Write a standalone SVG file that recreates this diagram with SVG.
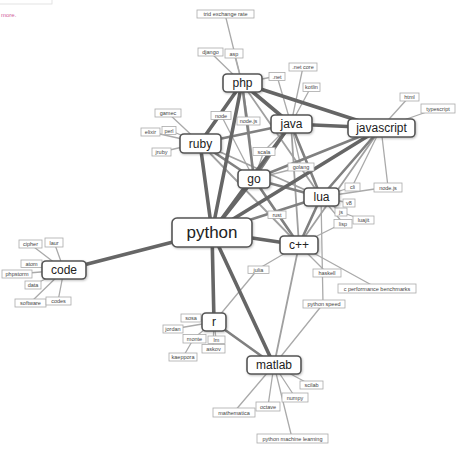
<svg xmlns="http://www.w3.org/2000/svg" width="456" height="456" viewBox="0 0 456 456">
<style>
.n rect{fill:#fff;stroke:#555;stroke-width:1.6}
.n text{font-family:"Liberation Sans",Arial,sans-serif;font-size:12px;fill:#222;text-anchor:middle;dominant-baseline:central}
.l rect{fill:#fff;stroke:#aaa;stroke-width:0.8}
.l text{font-family:"Liberation Sans",Arial,sans-serif;font-size:5.5px;fill:#444;text-anchor:middle;dominant-baseline:central}
.e line{stroke-linecap:round}
.t1{stroke:#666;stroke-width:3.6}
.t2{stroke:#808080;stroke-width:2.6}
.t3{stroke:#a0a0a0;stroke-width:1.8}
.t4{stroke:#aaa;stroke-width:1.3}
</style>
<defs>
<filter id="sh" x="-20%" y="-20%" width="140%" height="150%">
<feDropShadow dx="0.8" dy="1" stdDeviation="0.8" flood-color="#000" flood-opacity="0.25"/>
</filter>
</defs>
<rect x="-2" y="-10" width="54" height="14" fill="#fff" stroke="#ddd" stroke-width="0.8"/>
<text x="1" y="17" font-family="Liberation Sans,Arial,sans-serif" font-size="6" fill="#d0609a">more.</text>
<g id="connectors" class="e">
<!-- label edges -->
<line class="t4" x1="242" y1="83" x2="225" y2="14"/>
<line class="t4" x1="242" y1="83" x2="210" y2="52"/>
<line class="t4" x1="242" y1="83" x2="234" y2="53"/>
<line class="t4" x1="242" y1="83" x2="277" y2="76"/>
<line class="t4" x1="291" y1="124" x2="277" y2="76"/>
<line class="t4" x1="291" y1="124" x2="303" y2="67"/>
<line class="t4" x1="291" y1="124" x2="311" y2="87"/>
<line class="t4" x1="291" y1="124" x2="264" y2="151"/>
<line class="t4" x1="291" y1="124" x2="301" y2="167"/>
<line class="t4" x1="254" y1="179" x2="301" y2="167"/>
<line class="t4" x1="254" y1="179" x2="264" y2="151"/>
<line class="t4" x1="200" y1="143" x2="168" y2="113"/>
<line class="t4" x1="200" y1="143" x2="169" y2="130"/>
<line class="t4" x1="200" y1="143" x2="151" y2="132"/>
<line class="t4" x1="200" y1="143" x2="161" y2="152"/>
<line class="t4" x1="200" y1="143" x2="221" y2="115"/>
<line class="t4" x1="254" y1="179" x2="221" y2="115"/>
<line class="t4" x1="242" y1="83" x2="248" y2="121"/>
<line class="t4" x1="254" y1="179" x2="248" y2="121"/>
<line class="t4" x1="381" y1="128" x2="409" y2="97"/>
<line class="t4" x1="381" y1="128" x2="438" y2="108"/>
<line class="t4" x1="381" y1="128" x2="352" y2="187"/>
<line class="t4" x1="381" y1="128" x2="388" y2="187"/>
<line class="t4" x1="321" y1="197" x2="352" y2="187"/>
<line class="t4" x1="321" y1="197" x2="388" y2="187"/>
<line class="t4" x1="321" y1="197" x2="349" y2="203"/>
<line class="t4" x1="321" y1="197" x2="341" y2="212"/>
<line class="t4" x1="341" y1="212" x2="363" y2="220"/>
<line class="t4" x1="321" y1="197" x2="343" y2="223"/>
<line class="t4" x1="321" y1="197" x2="323" y2="304"/>
<line class="t4" x1="299" y1="245" x2="343" y2="223"/>
<line class="t4" x1="299" y1="245" x2="277" y2="214"/>
<line class="t4" x1="254" y1="179" x2="277" y2="214"/>
<line class="t4" x1="299" y1="245" x2="327" y2="273"/>
<line class="t4" x1="299" y1="245" x2="377" y2="288"/>
<line class="t4" x1="299" y1="245" x2="258" y2="269"/>
<line class="t4" x1="214" y1="322" x2="258" y2="269"/>
<line class="t4" x1="274" y1="365" x2="323" y2="304"/>
<line class="t4" x1="214" y1="322" x2="191" y2="318"/>
<line class="t4" x1="214" y1="322" x2="173" y2="329"/>
<line class="t4" x1="214" y1="322" x2="194" y2="338"/>
<line class="t4" x1="214" y1="322" x2="216" y2="339"/>
<line class="t4" x1="214" y1="322" x2="213" y2="348"/>
<line class="t4" x1="194" y1="338" x2="183" y2="357"/>
<line class="t4" x1="274" y1="365" x2="311" y2="385"/>
<line class="t4" x1="274" y1="365" x2="295" y2="397"/>
<line class="t4" x1="274" y1="365" x2="268" y2="406"/>
<line class="t4" x1="274" y1="365" x2="234" y2="412"/>
<line class="t4" x1="274" y1="365" x2="292" y2="438"/>
<line class="t4" x1="64" y1="270" x2="30" y2="244"/>
<line class="t4" x1="64" y1="270" x2="54" y2="242"/>
<line class="t4" x1="64" y1="270" x2="31" y2="263"/>
<line class="t4" x1="64" y1="270" x2="17" y2="274"/>
<line class="t4" x1="64" y1="270" x2="33" y2="285"/>
<line class="t4" x1="64" y1="270" x2="30" y2="303"/>
<line class="t4" x1="64" y1="270" x2="58" y2="301"/>
<!-- main edges -->
<line class="t3" x1="200" y1="143" x2="321" y2="197"/>
<line class="t3" x1="200" y1="143" x2="299" y2="245"/>
<line class="t3" x1="242" y1="83" x2="321" y2="197"/>
<line class="t3" x1="291" y1="124" x2="299" y2="245"/>
<line class="t3" x1="381" y1="128" x2="299" y2="245"/>
<line class="t3" x1="274" y1="365" x2="299" y2="245"/>
<line class="t2" x1="291" y1="124" x2="254" y2="179"/>
<line class="t2" x1="291" y1="124" x2="200" y2="143"/>
<line class="t2" x1="291" y1="124" x2="321" y2="197"/>
<line class="t2" x1="254" y1="179" x2="321" y2="197"/>
<line class="t2" x1="254" y1="179" x2="381" y2="128"/>
<line class="t2" x1="254" y1="179" x2="299" y2="245"/>
<line class="t2" x1="254" y1="179" x2="200" y2="143"/>
<line class="t2" x1="242" y1="83" x2="254" y2="179"/>
<line class="t2" x1="381" y1="128" x2="321" y2="197"/>
<line class="t2" x1="321" y1="197" x2="299" y2="245"/>
<line class="t2" x1="214" y1="322" x2="274" y2="365"/>
<line class="t2" x1="212" y1="232" x2="321" y2="197"/>
<line class="t1" x1="212" y1="232" x2="242" y2="83"/>
<line class="t1" x1="212" y1="232" x2="200" y2="143"/>
<line class="t1" x1="212" y1="232" x2="254" y2="179"/>
<line class="t1" x1="212" y1="232" x2="291" y2="124"/>
<line class="t1" x1="212" y1="232" x2="381" y2="128"/>
<line class="t1" x1="212" y1="232" x2="64" y2="270"/>
<line class="t1" x1="212" y1="232" x2="299" y2="245"/>
<line class="t1" x1="212" y1="232" x2="214" y2="322"/>
<line class="t1" x1="212" y1="232" x2="274" y2="365"/>
<line class="t1" x1="242" y1="83" x2="291" y2="124"/>
<line class="t1" x1="242" y1="83" x2="381" y2="128"/>
<line class="t1" x1="242" y1="83" x2="200" y2="143"/>
<line class="t1" x1="291" y1="124" x2="381" y2="128"/>
</g>
<g id="lab-fx" class="l"><rect x="197" y="10" width="57" height="8"/><text x="225.5" y="14">trid exchange rate</text></g>
<g id="lab-django" class="l"><rect x="198" y="48" width="25" height="8"/><text x="210.5" y="52">django</text></g>
<g id="lab-asp" class="l"><rect x="225" y="49" width="18" height="9"/><text x="234" y="53.5">asp</text></g>
<g id="lab-net" class="l"><rect x="269" y="72.5" width="16" height="8"/><text x="277" y="76.5">.net</text></g>
<g id="lab-netcore" class="l"><rect x="289" y="63" width="28" height="8"/><text x="303" y="67">.net core</text></g>
<g id="lab-kotlin" class="l"><rect x="303" y="83" width="17" height="8.5"/><text x="311.5" y="87.3">kotlin</text></g>
<g id="lab-gamec" class="l"><rect x="155" y="109" width="26" height="8"/><text x="168" y="113">gamec</text></g>
<g id="lab-perl" class="l"><rect x="162" y="126.5" width="14" height="8"/><text x="169" y="130.5">perl</text></g>
<g id="lab-elixir" class="l"><rect x="141" y="128" width="19" height="8"/><text x="150.5" y="132">elixir</text></g>
<g id="lab-jruby" class="l"><rect x="152" y="148" width="19" height="8"/><text x="161.5" y="152">jruby</text></g>
<g id="lab-node" class="l"><rect x="211" y="111.5" width="20" height="8"/><text x="221" y="115.5">node</text></g>
<g id="lab-nodejs1" class="l"><rect x="237" y="117" width="23" height="8"/><text x="248.5" y="121">node.js</text></g>
<g id="lab-scala" class="l"><rect x="253" y="147.5" width="22" height="8"/><text x="264" y="151.5">scala</text></g>
<g id="lab-golang" class="l"><rect x="288" y="163" width="26" height="8"/><text x="301" y="167">golang</text></g>
<g id="lab-html" class="l"><rect x="400" y="93" width="19" height="8"/><text x="409.5" y="97">html</text></g>
<g id="lab-typescript" class="l"><rect x="421" y="104" width="34" height="9"/><text x="438" y="108.5">typescript</text></g>
<g id="lab-cli" class="l"><rect x="345" y="183" width="15" height="8"/><text x="352.5" y="187">cli</text></g>
<g id="lab-nodejs2" class="l"><rect x="374" y="183" width="28" height="9"/><text x="388" y="187.5">node.js</text></g>
<g id="lab-v8" class="l"><rect x="343" y="199" width="12" height="8"/><text x="349" y="203">v8</text></g>
<g id="lab-js" class="l"><rect x="335" y="208" width="12" height="8"/><text x="341" y="212">js</text></g>
<g id="lab-luajit" class="l"><rect x="353" y="216" width="21" height="8"/><text x="363.5" y="220">luajit</text></g>
<g id="lab-lisp" class="l"><rect x="334" y="219.5" width="18" height="8.5"/><text x="343" y="223.8">lisp</text></g>
<g id="lab-rust" class="l"><rect x="268" y="211" width="18" height="7.5"/><text x="277" y="214.8">rust</text></g>
<g id="lab-julia" class="l"><rect x="248" y="266" width="21" height="7.5"/><text x="258.5" y="269.8">julia</text></g>
<g id="lab-haskell" class="l"><rect x="313" y="269" width="28" height="8"/><text x="327" y="273">haskell</text></g>
<g id="lab-cperf" class="l"><rect x="338" y="284" width="78" height="9"/><text x="377" y="288.5">c performance benchmarks</text></g>
<g id="lab-pyspeed" class="l"><rect x="303" y="300" width="42" height="8"/><text x="324" y="304">python speed</text></g>
<g id="lab-sosa" class="l"><rect x="181" y="314" width="20" height="8"/><text x="191" y="318">sosa</text></g>
<g id="lab-jordan" class="l"><rect x="163" y="325" width="20" height="8"/><text x="173" y="329">jordan</text></g>
<g id="lab-monte" class="l"><rect x="183" y="334.5" width="23" height="8.5"/><text x="194.5" y="338.8">monte</text></g>
<g id="lab-lm" class="l"><rect x="208" y="336" width="17" height="7.5"/><text x="216.5" y="339.8">lm</text></g>
<g id="lab-askov" class="l"><rect x="202" y="344.5" width="23" height="8.5"/><text x="213.5" y="348.8">askov</text></g>
<g id="lab-kaeppora" class="l"><rect x="169" y="353" width="28" height="8"/><text x="183" y="357">kaeppora</text></g>
<g id="lab-scilab" class="l"><rect x="300" y="381" width="23" height="8"/><text x="311.5" y="385">scilab</text></g>
<g id="lab-numpy" class="l"><rect x="282" y="393" width="26" height="9"/><text x="295" y="397.5">numpy</text></g>
<g id="lab-octave" class="l"><rect x="256" y="402" width="24" height="9"/><text x="268" y="406.5">octave</text></g>
<g id="lab-mathematica" class="l"><rect x="213" y="408" width="42" height="9"/><text x="234" y="412.5">mathematica</text></g>
<g id="lab-pml" class="l"><rect x="257" y="434" width="71" height="9"/><text x="292.5" y="438.5">python machine learning</text></g>
<g id="lab-cipher" class="l"><rect x="19" y="240" width="23" height="8"/><text x="30.5" y="244">cipher</text></g>
<g id="lab-laur" class="l"><rect x="45" y="238" width="18" height="9"/><text x="54" y="242.5">laur</text></g>
<g id="lab-atom" class="l"><rect x="21" y="260" width="21" height="7.5"/><text x="31.5" y="263.8">atom</text></g>
<g id="lab-phpstorm" class="l"><rect x="2" y="270" width="30" height="8"/><text x="17" y="274">phpstorm</text></g>
<g id="lab-data" class="l"><rect x="25" y="281" width="16" height="8"/><text x="33" y="285">data</text></g>
<g id="lab-software" class="l"><rect x="15" y="299" width="31" height="8"/><text x="30.5" y="303">software</text></g>
<g id="lab-codes" class="l"><rect x="46" y="297" width="25" height="8"/><text x="58.5" y="301">codes</text></g>
<g id="node-php" class="n"><rect x="223" y="74" width="39" height="18" rx="4" filter="url(#sh)"/><text x="242.5" y="83">php</text></g>
<g id="node-java" class="n"><rect x="271" y="115" width="41" height="18" rx="4" filter="url(#sh)"/><text x="291.5" y="124">java</text></g>
<g id="node-javascript" class="n"><rect x="348" y="119" width="67" height="18" rx="4" filter="url(#sh)"/><text x="381.5" y="128">javascript</text></g>
<g id="node-ruby" class="n"><rect x="180" y="134" width="41" height="19" rx="4" filter="url(#sh)"/><text x="200.5" y="143.5">ruby</text></g>
<g id="node-go" class="n"><rect x="238" y="170" width="32" height="18" rx="4" filter="url(#sh)"/><text x="254" y="179">go</text></g>
<g id="node-lua" class="n"><rect x="304" y="188" width="35" height="18" rx="4" filter="url(#sh)"/><text x="321.5" y="197">lua</text></g>
<g id="node-python" class="n"><rect x="172" y="218" width="80" height="29" rx="5" filter="url(#sh)"/><text x="212" y="232.5" style="font-size:17px">python</text></g>
<g id="node-cpp" class="n"><rect x="280" y="236" width="38" height="18" rx="4" filter="url(#sh)"/><text x="299" y="245">c++</text></g>
<g id="node-code" class="n"><rect x="42" y="261" width="44" height="18" rx="4" filter="url(#sh)"/><text x="64" y="270">code</text></g>
<g id="node-r" class="n"><rect x="202" y="313" width="24" height="18" rx="4" filter="url(#sh)"/><text x="214" y="322">r</text></g>
<g id="node-matlab" class="n"><rect x="247" y="356" width="54" height="18" rx="4" filter="url(#sh)"/><text x="274" y="365">matlab</text></g>
</svg>
